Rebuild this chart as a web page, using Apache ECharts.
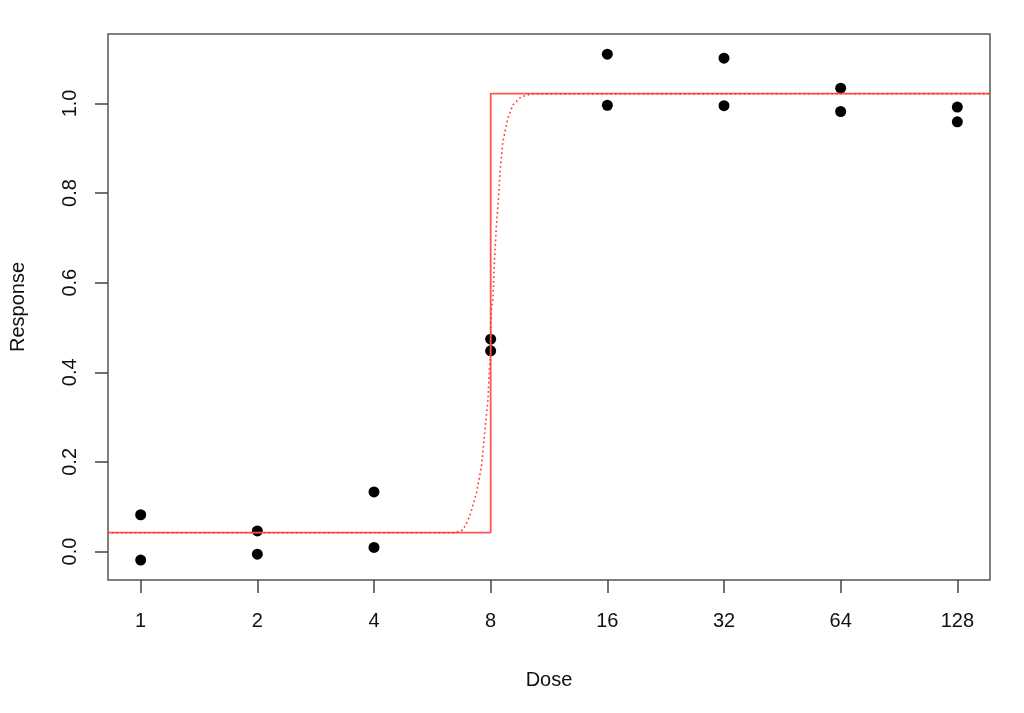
<!DOCTYPE html>
<html>
<head>
<meta charset="utf-8">
<script src="https://cdn.jsdelivr.net/npm/echarts@6/dist/echarts.min.js"></script>
<style>html,body{margin:0;padding:0;background:#fff;}#c{width:1024px;height:713px;}</style>
</head>
<body>
<div id="c"></div>
<script>
// Observed data (dose, response)
const doses = [1, 1, 2, 2, 4, 4, 8, 8, 16, 16, 32, 32, 64, 64, 128, 128];
const responses = [0.082, -0.019, 0.046, -0.006, 0.133, 0.009, 0.474, 0.448, 1.110, 0.996, 1.101, 0.995, 1.034, 0.982, 0.992, 0.959];
// Tick labels
const xTicks = [1, 2, 4, 8, 16, 32, 64, 128];
const yTicks = [0.0, 0.2, 0.4, 0.6, 0.8, 1.0];
// Fitted step model (solid)
const stepDose = [0.82, 8, 8, 155.4];
const stepResp = [0.042, 0.042, 1.022, 1.022];
// Fitted smooth model (dotted)
const curveDose = [0.82, 6.46, 6.79, 7.06, 7.35, 7.57, 7.72, 7.87, 7.99, 8.03, 8.11, 8.18, 8.27, 8.39, 8.47, 8.60, 8.86, 9.13, 9.59, 10.18, 155.4];
const curveResp = [0.042, 0.042, 0.048, 0.078, 0.130, 0.189, 0.264, 0.338, 0.450, 0.539, 0.566, 0.647, 0.722, 0.795, 0.855, 0.914, 0.967, 0.997, 1.015, 1.021, 1.022];

const l2 = Math.log2;
const pts = doses.map((d, i) => [l2(d), responses[i]]);
const step = stepDose.map((d, i) => [l2(d), stepResp[i]]);
const curve = curveDose.map((d, i) => [l2(d), curveResp[i]]);

const font = 'Liberation Sans, Arial, sans-serif';
const chart = echarts.init(document.getElementById('c'), null, {renderer: 'canvas'});
chart.setOption({
  animation: false,
  backgroundColor: '#fff',
  grid: {left: 106, top: 34, right: 34, bottom: 133, show: true, borderColor: '#555', borderWidth: 1.5, backgroundColor: 'transparent'},
  xAxis: {
    type: 'value',
    min: -0.28, max: 7.28,
    name: 'Dose', nameLocation: 'middle', nameGap: 90,
    nameTextStyle: {fontFamily: font, fontSize: 20, color: '#111'},
    axisLine: {show: false, onZero: false},
    splitLine: {show: false},
    axisTick: {show: true, length: 13, lineStyle: {color: '#444', width: 1.5}, customValues: xTicks.map(l2)},
    axisLabel: {customValues: xTicks.map(l2), formatter: v => String(Math.round(Math.pow(2, v))), fontFamily: font, fontSize: 20, color: '#111', margin: 31}
  },
  yAxis: {
    type: 'value',
    min: -0.0636, max: 1.155,
    name: 'Response', nameLocation: 'middle', nameGap: 80, nameRotate: 90,
    nameTextStyle: {fontFamily: font, fontSize: 20, color: '#111'},
    axisLine: {show: false, onZero: false},
    splitLine: {show: false},
    axisTick: {show: true, length: 13, lineStyle: {color: '#444', width: 1.5}, customValues: yTicks},
    axisLabel: {customValues: yTicks, rotate: 90, formatter: v => v.toFixed(1), fontFamily: font, fontSize: 20, color: '#111', margin: 28}
  },
  series: [
    {type: 'scatter', data: pts, symbol: 'circle', symbolSize: 11, itemStyle: {color: '#000', opacity: 1}, z: 2, silent: true},
    {type: 'line', data: step, showSymbol: false, symbol: 'none', lineStyle: {color: '#ff5555', width: 1.8}, z: 3, silent: true},
    {type: 'line', data: curve, showSymbol: false, symbol: 'none', smooth: false, lineStyle: {color: '#ff3030', width: 1.6, type: [1.6, 3]}, z: 4, silent: true}
  ]
});
</script>
</body>
</html>
